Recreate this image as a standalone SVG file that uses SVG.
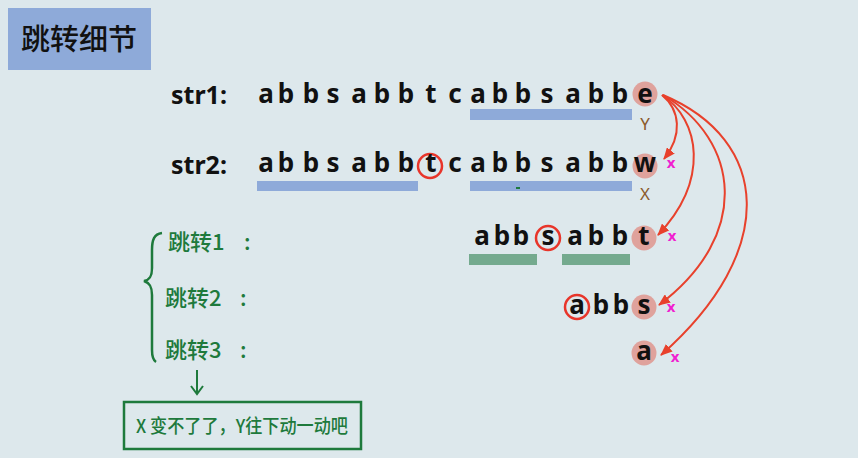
<svg xmlns="http://www.w3.org/2000/svg" width="858" height="458" viewBox="0 0 858 458">
<style>
.lt{font-family:"Noto Sans","Noto Sans CJK SC",sans-serif;font-size:26px;font-weight:700;fill:#111;text-anchor:middle}
.lbl{font-family:"Noto Sans","Noto Sans CJK SC",sans-serif;font-size:25px;font-weight:700;fill:#111}
.gr{font-family:"Noto Sans CJK SC",sans-serif;font-size:22px;font-weight:500;fill:#1e7a3c}
.pk{fill:#dfa29c}
.rc{fill:none;stroke:#e8352a;stroke-width:2.5}
.bb{fill:#8eaad9}
.gb{fill:#74aa8e}
.xm{font-family:"Noto Sans",sans-serif;font-size:15px;font-weight:700;fill:#f020d0;text-anchor:middle}
.br{font-family:"Noto Sans",sans-serif;font-size:17px;fill:#8b5a2b;text-anchor:middle}
.arr{fill:none;stroke:#e8412c;stroke-width:2}
</style>
<defs>
<marker id="ah" viewBox="0 0 12 10" refX="11" refY="5" markerWidth="12" markerHeight="10" markerUnits="userSpaceOnUse" orient="auto">
<path d="M0,0 L12,5 L0,10 Z" fill="#e8412c"/>
</marker>
</defs>
<rect width="858" height="458" fill="#dde8ec"/>
<g id="title">
<rect x="8" y="8" width="143" height="62" fill="#8eaad9"/>
<text x="79" y="50" font-family="Noto Sans CJK SC,sans-serif" font-size="29" font-weight="500" fill="#111" text-anchor="middle">跳转细节</text>
</g>
<g id="str1">
<text class="lbl" x="171" y="104">str1:</text>
<circle class="pk" cx="645" cy="94" r="12.5"/>
<text class="lt" x="266 286 311 333 359 382 406 431 455 478 500 523 547 573 596 620 645" y="103">abbsabbtcabbsabbe</text>
<rect class="bb" x="470" y="109" width="162" height="11"/>
<text class="br" x="645" y="130">Y</text>
</g>
<g id="str2">
<text class="lbl" x="171" y="174">str2:</text>
<circle class="pk" cx="645" cy="166" r="12.5"/>
<circle class="rc" cx="430" cy="166" r="12"/>
<text class="lt" x="266 286 311 333 359 382 406 431 455 478 500 523 547 573 596 620 645" y="172">abbsabbtcabbsabbw</text>
<rect class="bb" x="257" y="181" width="161" height="10"/>
<rect class="bb" x="470" y="181" width="162" height="10"/>
<rect x="516" y="187" width="4" height="2" fill="#1e7a3c"/>
<text class="br" x="645" y="200">X</text>
<text class="xm" x="671" y="168">x</text>
</g>
<g id="jump1">
<text class="gr" x="168" y="250">跳转1<tspan x="244">:</tspan></text>
<circle class="pk" cx="644" cy="238" r="12.5"/>
<circle class="rc" cx="548" cy="238" r="12"/>
<text class="lt" x="482 502 521 548 575 596 620 644" y="245">abbsabbt</text>
<rect class="gb" x="469" y="254" width="68" height="11"/>
<rect class="gb" x="562" y="254" width="68" height="11"/>
<text class="xm" x="672" y="241">x</text>
</g>
<g id="jump2">
<text class="gr" x="165" y="306">跳转2<tspan x="240">:</tspan></text>
<circle class="pk" cx="644" cy="307" r="12.5"/>
<circle class="rc" cx="577" cy="307" r="12"/>
<text class="lt" x="577 601 621 644" y="314">abbs</text>
<text class="xm" x="671" y="312">x</text>
</g>
<g id="jump3">
<text class="gr" x="165" y="358">跳转3<tspan x="240">:</tspan></text>
<circle class="pk" cx="644" cy="353" r="12.5"/>
<text class="lt" x="644" y="360">a</text>
<text class="xm" x="675" y="362">x</text>
</g>
<g id="brace">
<path d="M162,233 C154,234 152,240 152,250 L152,268 C152,276 150,280 144,281 C150,283 152,287 152,295 L152,350 C152,356 153,360 156,362" fill="none" stroke="#1e7a3c" stroke-width="2.5"/>
</g>
<g id="note">
<rect x="124" y="402" width="237" height="47" fill="none" stroke="#1e7a3c" stroke-width="2.5"/>
<text x="136" y="433" font-family="Noto Sans CJK SC,sans-serif" font-size="19" font-weight="500" fill="#1e7a3c" textLength="212" lengthAdjust="spacingAndGlyphs">X 变不了了，Y往下动一动吧</text>
</g>
<g id="connectors">
<path class="arr" d="M662,95 C680,110 683,135 664,159" marker-end="url(#ah)"/>
<path class="arr" d="M662,95 C700,120 710,180 658,235" marker-end="url(#ah)"/>
<path class="arr" d="M663,95 C740,140 752,235 659,305" marker-end="url(#ah)"/>
<path class="arr" d="M663,95 C770,140 780,250 661,355" marker-end="url(#ah)"/>
<path d="M197,370 L197,394 M191,386 L197,394 L203,386" fill="none" stroke="#1e7a3c" stroke-width="2"/>
</g>
</svg>
